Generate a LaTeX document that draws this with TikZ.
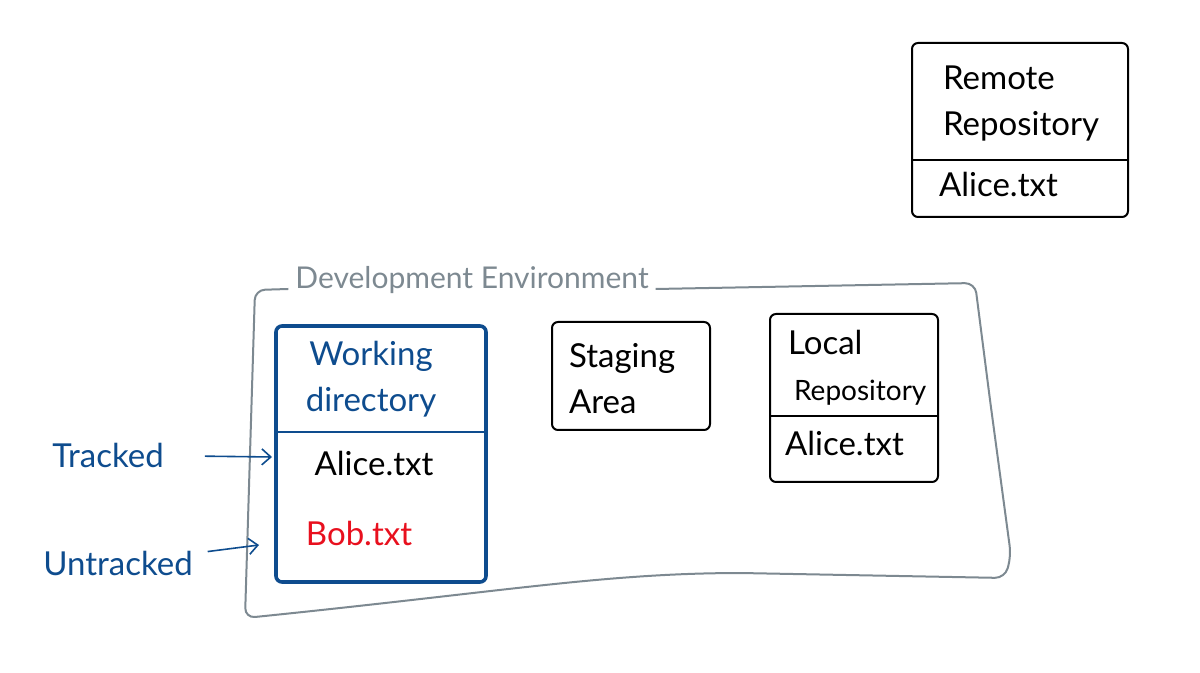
\documentclass[tikz,border=0pt]{standalone}
\usepackage{fontspec}
\setmainfont{Lato}
\usetikzlibrary{arrows.meta}
\definecolor{penblue}{HTML}{0E4C8E}
\definecolor{pengray}{HTML}{7D8991}
\definecolor{penred}{HTML}{E8101E}
\tikzset{
  hand/.style = {font=\fontsize{16.5}{23}\selectfont, align=left},
  box/.style = {draw, line width=1pt, rounded corners=3pt},
  note/.style = {-{Straight Barb[length=4.5pt, width=8pt]}, penblue, line width=0.8pt}
}
\begin{document}
\begin{tikzpicture}[x=0.5pt, y=-0.5pt]
  \useasboundingbox (0,0) rectangle (1200,673);

  % remote repository
  \node[box, minimum width=108pt, minimum height=87pt] (remote) at (1020,130) {};
  \node[hand, anchor=west] (remotename) at (936,104) {Remote\\Repository};
  \node[hand, anchor=west] (remotefile) at (932,184) {Alice.txt};
  \draw[line width=0.8pt] (remote.west |- 0,160) -- (remote.east |- 0,160);

  % development environment
  \node[hand, pengray, anchor=base, font=\fontsize{15}{18}\selectfont] (env) at (472,289) {Development Environment};
  \draw[pengray, line width=1pt, rounded corners=5pt]
    (env.base west) -- (255,290) -- (245,618)
    .. controls (500,592) and (600,574) .. (740,573)
    -- (1005,578) -- (1011,556) -- (990,400) -- (975,283) -- (env.base east);

  % working directory
  \node[box, penblue, line width=1.8pt, minimum width=105pt, minimum height=128pt] (wd) at (381,454) {};
  \node[hand, penblue, align=center] (wdname) at (371,379) {Working\\directory};
  \draw[penblue, line width=1pt] (wd.west |- 0,432) -- (wd.east |- 0,432);
  \node[hand] (alice) at (374,463) {Alice.txt};
  \node[hand, penred] (bob) at (359,533) {Bob.txt};

  % staging area
  \node[box, minimum width=79pt, minimum height=54pt] (stage) at (631,376) {};
  \node[hand, anchor=west] (stagename) at (562,379) {Staging\\Area};

  % local repository
  \node[box, minimum width=84pt, minimum height=84pt] (local) at (854,398) {};
  \node[hand, anchor=west] (localname) at (781,368) {Local\\\hspace*{3pt}{\fontsize{14}{23}\selectfont Repository}};
  \draw[line width=0.8pt] (local.west |- 0,416) -- (local.east |- 0,416);
  \node[hand, anchor=west] (localfile) at (778,443) {Alice.txt};

  % labels
  \node[hand, penblue] (tracked) at (108,455) {Tracked};
  \node[hand, penblue] (untracked) at (118,563) {Untracked};
  \coordinate (trackin) at (272,457);
  \coordinate (untrackin) at (259,545);
  \draw[note, shorten <=17pt] (tracked) -- (trackin);
  \draw[note, shorten <=4pt] (untracked) -- (untrackin);
\end{tikzpicture}
\end{document}
